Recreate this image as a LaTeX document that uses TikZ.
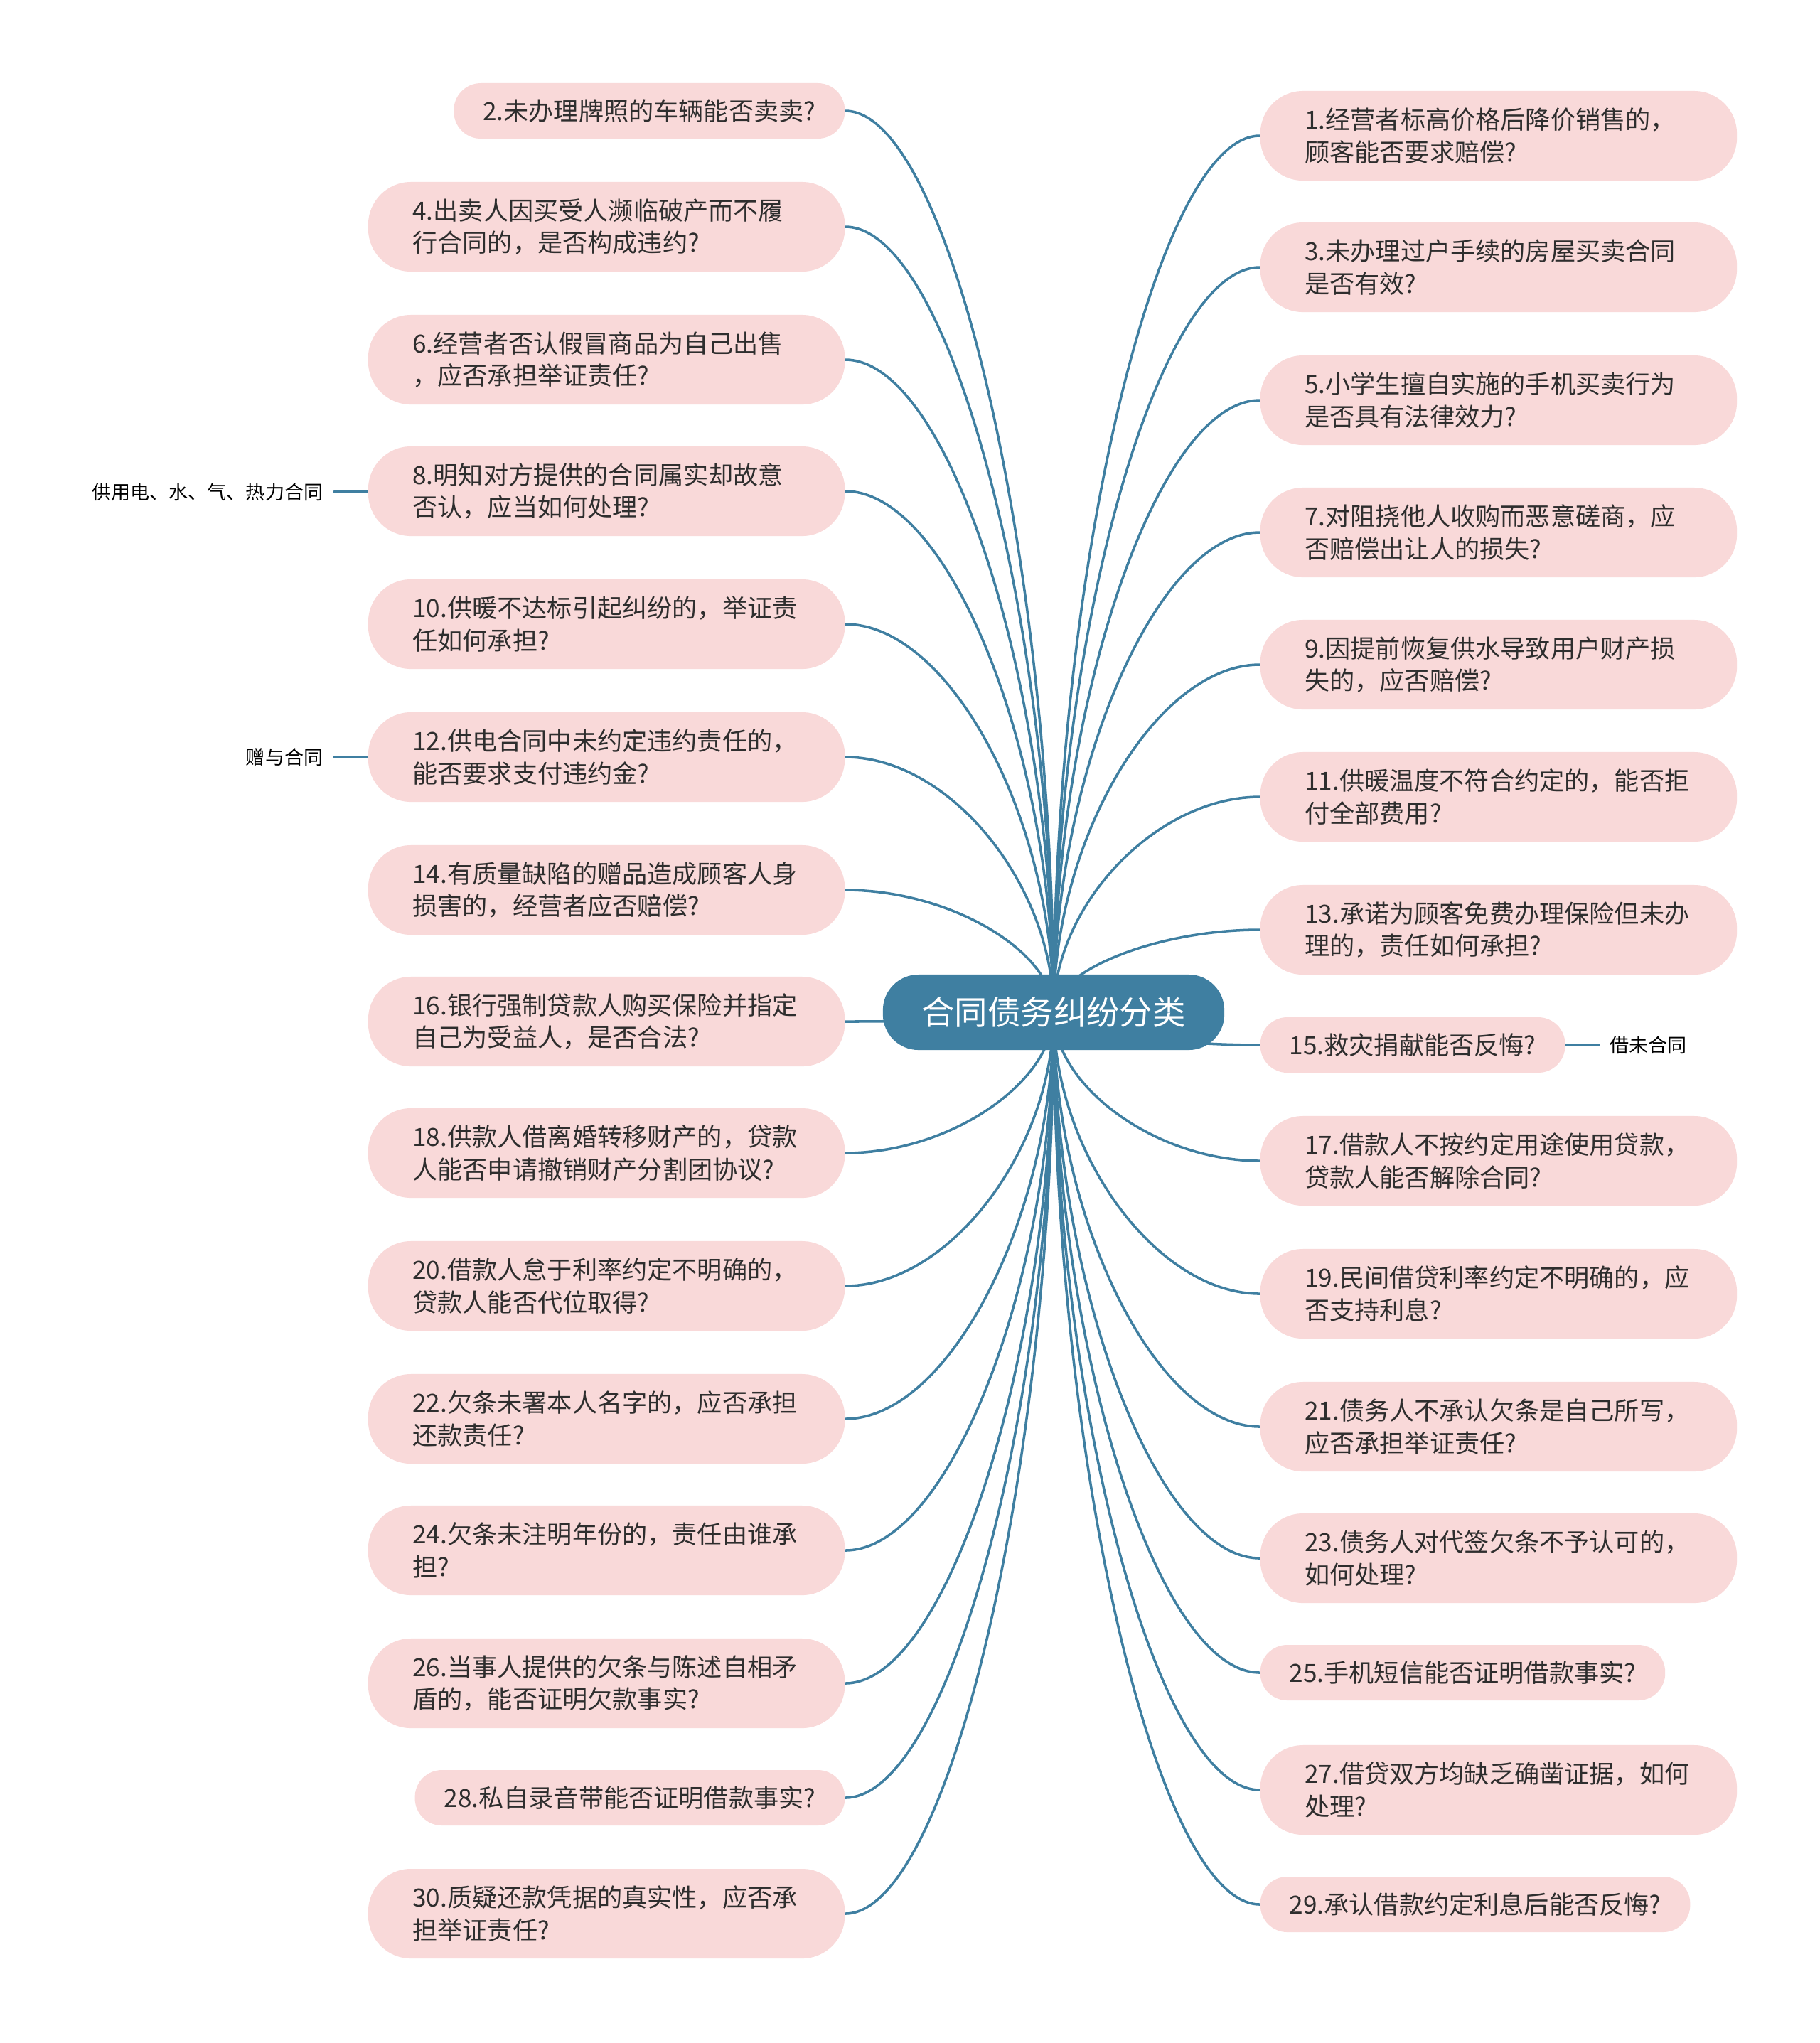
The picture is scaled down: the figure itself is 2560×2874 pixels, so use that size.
\documentclass[tikz,border=0pt]{standalone}
\usepackage{fontspec}
\setmainfont{Noto Sans CJK SC}
\usetikzlibrary{calc,backgrounds}
\definecolor{rootblue}{HTML}{3F7FA1}
\definecolor{leafpink}{HTML}{F9D9D9}
\definecolor{inkgray}{HTML}{2E2E2E}
\tikzset{
  leaf/.style={fill=leafpink,text=inkgray,font=\fontsize{10}{13}\selectfont,align=left,inner ysep=0pt},
  twoline/.style={leaf,rounded corners=0.6cm,text width=5.45cm,inner xsep=0.625cm,minimum height=1.26cm},
  oneline/.style={leaf,rounded corners=0.38cm,inner xsep=0.41cm,minimum height=0.78cm},
  link/.style={rootblue,line width=1pt},
  tag/.style={font=\fontsize{7.7}{9}\selectfont,inner sep=0.14cm}
}

\begin{document}
\begin{tikzpicture}[x=0.01cm,y=-0.01cm]
\useasboundingbox (0,0) rectangle (2560,2874);
\node[fill=rootblue,text=white,rounded corners=0.5cm,minimum width=4.8cm,minimum height=1.06cm,
  font=\fontsize{13.2}{16}\selectfont] (root) at (1482,1424) {合同债务纠纷分类};
% left side
\foreach \i/\y/\txt in {
  4/319/{4.出卖人因买受人濒临破产而不履\\行合同的，是否构成违约?},
  6/506/{6.经营者否认假冒商品为自己出售\\，应否承担举证责任?},
  8/691/{8.明知对方提供的合同属实却故意\\否认，应当如何处理?},
  10/878/{10.供暖不达标引起纠纷的，举证责\\任如何承担?},
  12/1065/{12.供电合同中未约定违约责任的，\\能否要求支付违约金?},
  14/1252/{14.有质量缺陷的赠品造成顾客人身\\损害的，经营者应否赔偿?},
  16/1437/{16.银行强制贷款人购买保险并指定\\自己为受益人，是否合法?},
  18/1622/{18.供款人借离婚转移财产的，贷款\\人能否申请撤销财产分割团协议?},
  20/1809/{20.借款人怠于利率约定不明确的，\\贷款人能否代位取得?},
  22/1996/{22.欠条未署本人名字的，应否承担\\还款责任?},
  24/2181/{24.欠条未注明年份的，责任由谁承\\担?},
  26/2368/{26.当事人提供的欠条与陈述自相矛\\盾的，能否证明欠款事实?},
  30/2692/{30.质疑还款凭据的真实性，应否承\\担举证责任?}}
  \node[twoline,anchor=east] (n\i) at (1189,\y) {\txt};
\node[oneline,anchor=east] (n2) at (1189,156) {2.未办理牌照的车辆能否卖卖?};
\node[oneline,anchor=east] (n28) at (1189,2529) {28.私自录音带能否证明借款事实?};
% right side
\foreach \i/\y/\txt in {
  1/191/{1.经营者标高价格后降价销售的，\\顾客能否要求赔偿?},
  3/376/{3.未办理过户手续的房屋买卖合同\\是否有效?},
  5/563/{5.小学生擅自实施的手机买卖行为\\是否具有法律效力?},
  7/749/{7.对阻挠他人收购而恶意磋商，应\\否赔偿出让人的损失?},
  9/935/{9.因提前恢复供水导致用户财产损\\失的，应否赔偿?},
  11/1121/{11.供暖温度不符合约定的，能否拒\\付全部费用?},
  13/1308/{13.承诺为顾客免费办理保险但未办\\理的，责任如何承担?},
  17/1633/{17.借款人不按约定用途使用贷款，\\贷款人能否解除合同?},
  19/1820/{19.民间借贷利率约定不明确的，应\\否支持利息?},
  21/2007/{21.债务人不承认欠条是自己所写，\\应否承担举证责任?},
  23/2192/{23.债务人对代签欠条不予认可的，\\如何处理?},
  27/2518/{27.借贷双方均缺乏确凿证据，如何\\处理?}}
  \node[twoline,anchor=west] (n\i) at (1772,\y) {\txt};
\node[oneline,anchor=west] (n15) at (1772,1470) {15.救灾捐献能否反悔?};
\node[oneline,anchor=west] (n25) at (1772,2353) {25.手机短信能否证明借款事实?};
\node[oneline,anchor=west] (n29) at (1772,2679) {29.承认借款约定利息后能否反悔?};
\node[tag,anchor=east] (t8) at (469,692) {供用电、水、气、热力合同};
\node[tag,anchor=east] (t12) at (469,1065) {赠与合同};
\node[tag,anchor=west] (t15) at (2250,1470) {借未合同};
\begin{scope}[on background layer]
\foreach \i in {2,4,...,30}
  \draw[link] let \p1=(root.center),\p2=(n\i.east) in
    (\p1) .. controls (\x1,{(\y1+\y2)/2}) and ({(\x1+\x2)/2},\y2) .. (\p2);
\foreach \i in {1,3,...,29}
  \draw[link] let \p1=(root.center),\p2=(n\i.west) in
    (\p1) .. controls (\x1,{(\y1+\y2)/2}) and ({(\x1+\x2)/2},\y2) .. (\p2);
\draw[link] (n8.west) -- (t8.east);
\draw[link] (n12.west) -- (t12.east);
\draw[link] (n15.east) -- (t15.west);
\end{scope}
\end{tikzpicture}
\end{document}
